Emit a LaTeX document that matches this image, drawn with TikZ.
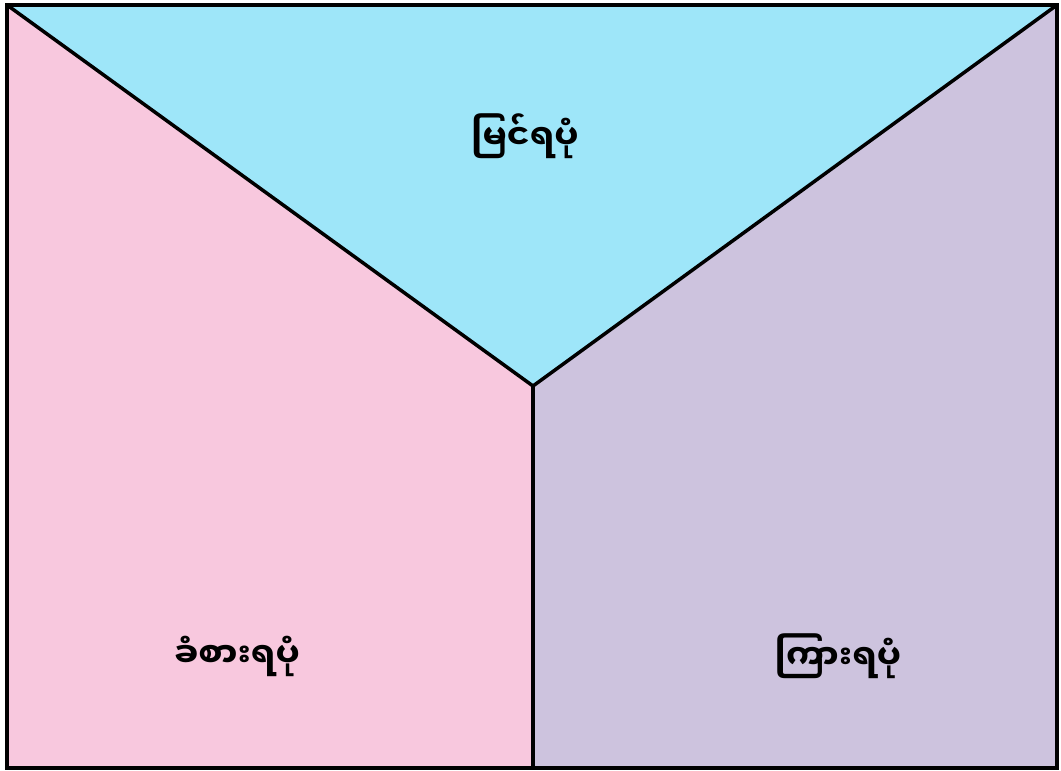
\documentclass[tikz,border=0pt]{standalone}
\usepackage{fontspec}
\newfontfamily\mmfont[Script=Myanmar]{Noto Sans Myanmar UI}
\definecolor{topc}{RGB}{158,230,249}
\definecolor{leftc}{RGB}{248,200,222}
\definecolor{rightc}{RGB}{205,195,222}
\tikzset{
  edge/.style={line width=3.5pt, line join=miter},
  lbl/.style={font=\mmfont\bfseries\fontsize{34}{40}\selectfont, inner sep=0pt}
}
\begin{document}
\begin{tikzpicture}[x=1pt,y=-1pt]
\useasboundingbox (0,0) rectangle (1061,771);
\coordinate (tl) at (7,5);
\coordinate (tr) at (1057,5);
\coordinate (bl) at (7,768);
\coordinate (br) at (1057,768);
\coordinate (c) at (533,386);
\coordinate (b) at (533,768);
\fill[topc] (tl) -- (tr) -- (c) -- cycle;
\fill[leftc] (tl) -- (c) -- (b) -- (bl) -- cycle;
\fill[rightc] (tr) -- (br) -- (b) -- (c) -- cycle;
\draw[edge] (tl) -- (c) -- (tr);
\draw[edge] (c) -- (b);
\draw[edge] (tl) rectangle (br);
\node[lbl] (top) at (525,136) {မြင်ရပုံ};
\node[lbl] (left) at (237,656) {ခံစားရပုံ};
\node[lbl] (right) at (838,656) {ကြားရပုံ};
\end{tikzpicture}
\end{document}
